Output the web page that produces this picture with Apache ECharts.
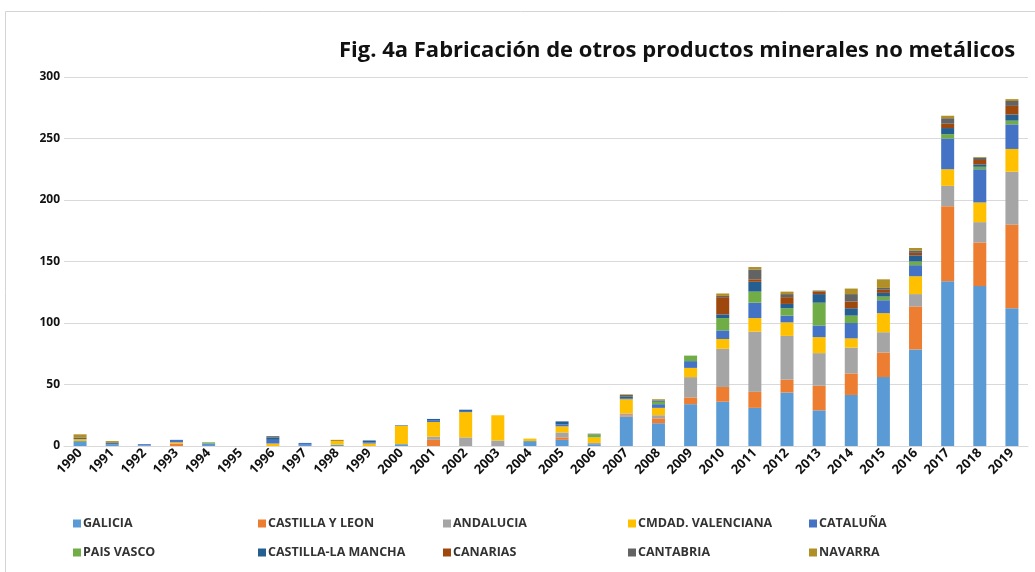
<!DOCTYPE html>
<html>
<head>
    <meta charset="utf-8">
    <title>Fig. 4a</title>
    <script src="https://cdn.jsdelivr.net/npm/echarts@6/dist/echarts.min.js"></script>
    <style>
        html, body { margin: 0; padding: 0; background: #fff; }
        #chart { width: 1035px; height: 572px; }
    </style>
</head>
<body>
<div id="chart"></div>
<script type="text/javascript">
    // data
    var years = ['1990','1991','1992','1993','1994','1995','1996','1997','1998','1999',
                 '2000','2001','2002','2003','2004','2005','2006','2007','2008','2009',
                 '2010','2011','2012','2013','2014','2015','2016','2017','2018','2019'];

    var galicia    = [4, 1.5, 0.5, 0, 1, 0, 0, 1, 1, 0, 1.5, 0, 0, 0, 4, 5, 1.5, 24, 18.5, 34, 36, 31, 43.5, 29, 41.5, 56, 78.5, 134, 130, 112];
    var castilla   = [0, 0, 0, 2, 0, 0, 0, 0, 0, 0, 0, 5, 0, 0, 0, 2, 0, 1, 4, 5.5, 12, 13, 10.5, 20, 17.5, 20, 35, 61, 35.5, 68];
    var andalucia  = [0, 0, 0, 0, 0, 0, 0, 0, 0, 0, 0, 2.5, 7, 4.5, 0, 4, 1, 1.5, 2.5, 16.5, 31, 49, 35.5, 26.5, 21, 16.5, 10, 16.5, 16.5, 43];
    var valenciana = [1.5, 0, 0, 1, 0, 0, 2, 0, 3, 2, 15, 12, 20.5, 20.5, 2, 5, 4.5, 11.5, 6, 7.5, 8, 11, 11, 13, 7.5, 15.5, 14.5, 13.5, 16, 18.5];
    var cataluna   = [0, 1, 1, 2, 1, 0, 3, 1.5, 0, 1, 0.5, 1.5, 1, 0, 0, 1.5, 0, 0.5, 3, 5.5, 7, 12.5, 5.5, 9.5, 12.5, 10.5, 9, 25, 27, 20];
    var paisVasco  = [0, 0, 0, 0, 1, 0, 0, 0, 0, 0, 0, 0, 0, 0, 0, 0, 2.5, 0, 2, 4.5, 10, 9, 6, 18.5, 6, 3, 3, 3.5, 2, 3];
    var clm        = [0, 0, 0, 0, 0, 0, 2, 0, 0, 1.5, 0, 1, 1, 0, 0, 2.5, 0, 1.5, 1, 0, 3, 8, 3.5, 7, 6, 3, 5, 5, 2, 5];
    var canarias   = [0, 0, 0, 0, 0, 0, 0, 0, 0, 0, 0, 0, 0, 0, 0, 0, 0, 0, 0, 0, 14, 2, 5.5, 2, 5.5, 2.5, 2, 3.5, 3.5, 7];
    var cantabria  = [1.5, 0, 0, 0, 0, 0, 1, 0, 0, 0, 0, 0, 0, 0, 0, 0, 0.5, 1.5, 0, 0, 1, 8, 2.5, 0.5, 6, 1.5, 2, 4.5, 2, 4];
    var navarra    = [2.5, 1.5, 0, 0, 0, 0, 0, 0, 1, 0, 0, 0, 0, 0, 0, 0, 0, 0.5, 1, 0, 2, 2, 2, 0.5, 4.5, 7, 2, 2, 0.5, 1.5];

    var names  = ['GALICIA', 'CASTILLA Y LEON', 'ANDALUCIA', 'CMDAD. VALENCIANA', 'CATALUÑA',
                  'PAIS VASCO', 'CASTILLA-LA MANCHA', 'CANARIAS', 'CANTABRIA', 'NAVARRA'];
    var values = [galicia, castilla, andalucia, valenciana, cataluna,
                  paisVasco, clm, canarias, cantabria, navarra];
    var colors = ['#5b9bd5', '#ed7d31', '#a5a5a5', '#ffc000', '#4472c4',
                  '#70ad47', '#255e91', '#9e480e', '#636363', '#b08f26'];

    var series = [];
    var legends = [];
    var legendCols = [68, 253, 438, 623, 804];
    for (var i = 0; i < names.length; i++) {
        series.push({
            name: names[i],
            type: 'bar',
            stack: 'total',
            barWidth: 13,
            itemStyle: { color: colors[i] },
            data: values[i]
        });
        // one legend per item so the columns line up like the original
        legends.push({
            left: legendCols[i % 5],
            top: i < 5 ? 512 : 541,
            itemWidth: 8,
            itemHeight: 8,
            icon: 'rect',
            data: [names[i]],
            textStyle: { fontSize: 12.5, fontWeight: 'bold', color: '#333', padding: [0, 0, 0, -3] }
        });
    }

    var chart = echarts.init(document.getElementById('chart'));
    chart.setOption({
        animation: false,
        backgroundColor: '#fff',
        textStyle: { fontFamily: 'Open Sans' },
        graphic: [{
            type: 'rect',
            shape: { x: 5.5, y: 11.5, width: 1100, height: 700 },
            style: { fill: 'none', stroke: '#d4d4d4', lineWidth: 1 },
            silent: true
        }],
        title: {
            text: 'Fig. 4a Fabricación de otros productos minerales no metálicos',
            left: 334,
            top: 35,
            textStyle: { fontSize: 22, fontWeight: 'bold', color: '#111' }
        },
        legend: legends,
        grid: { left: 64, right: 7, top: 77, bottom: 126 },
        xAxis: {
            type: 'category',
            data: years,
            axisLine: { lineStyle: { color: '#d9d9d9' } },
            axisTick: { show: false },
            axisLabel: { interval: 0, rotate: 45, fontSize: 13, fontWeight: 'bold', color: '#111', margin: 5 }
        },
        yAxis: {
            type: 'value',
            min: 0,
            max: 300,
            interval: 50,
            splitLine: { lineStyle: { color: '#d9d9d9' } },
            axisLabel: { fontSize: 12, fontWeight: 'bold', color: '#111', margin: 4 }
        },
        series: series
    });
</script>
</body>
</html>
